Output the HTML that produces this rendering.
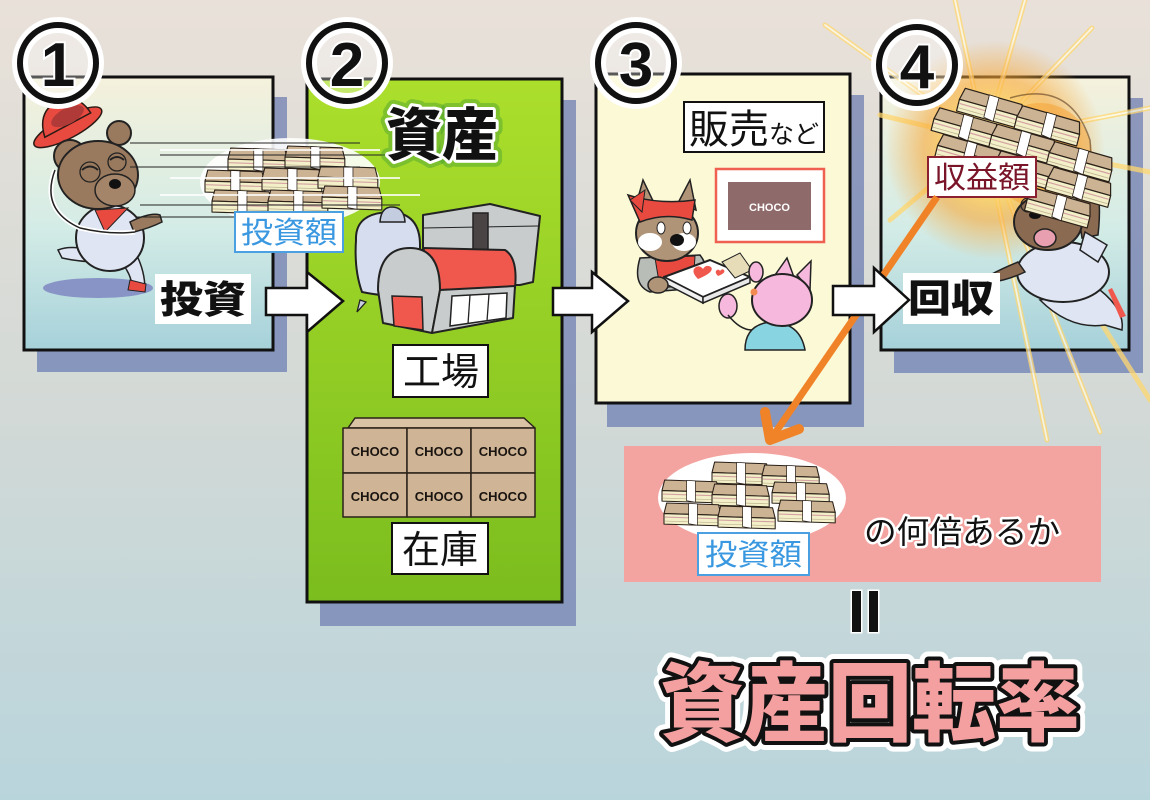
<!DOCTYPE html>
<html><head><meta charset="utf-8">
<style>
html,body{margin:0;padding:0;width:1150px;height:800px;overflow:hidden;background:#d6d9d6}
svg{display:block}
text{font-family:"Liberation Sans","Noto Sans CJK JP",sans-serif}
</style></head><body>
<svg width="1150" height="800" viewBox="0 0 1150 800" xmlns="http://www.w3.org/2000/svg">
<defs>
 <linearGradient id="bg" x1="0" y1="0" x2="0" y2="1">
  <stop offset="0" stop-color="#e9e1d9"/>
  <stop offset="0.5" stop-color="#d3d9d6"/>
  <stop offset="1" stop-color="#b9d5dc"/>
 </linearGradient>
 <linearGradient id="p1" x1="0" y1="0" x2="0" y2="1">
  <stop offset="0" stop-color="#f5f1dc"/>
  <stop offset="0.55" stop-color="#d4ece6"/>
  <stop offset="1" stop-color="#a6d1da"/>
 </linearGradient>
 <linearGradient id="p2" x1="0" y1="0" x2="0" y2="1">
  <stop offset="0" stop-color="#acdf2c"/>
  <stop offset="1" stop-color="#7bbd1e"/>
 </linearGradient>
 <linearGradient id="sh" x1="0" y1="0" x2="0" y2="1">
  <stop offset="0" stop-color="#8c97bb"/>
  <stop offset="1" stop-color="#8796bd"/>
 </linearGradient>
 <radialGradient id="glow" cx="0.5" cy="0.5" r="0.5">
  <stop offset="0" stop-color="#fffbe0" stop-opacity="1"/>
  <stop offset="0.35" stop-color="#ffe070" stop-opacity="0.95"/>
  <stop offset="0.65" stop-color="#f8a838" stop-opacity="0.6"/>
  <stop offset="1" stop-color="#f8a838" stop-opacity="0"/>
 </radialGradient>
 <g id="bun">
  <polygon points="3,0 62,2 65,14 0,12" fill="#cbb394" stroke="#2a2018" stroke-width="1.2" stroke-linejoin="round"/>
  <polygon points="0,12 65,14 65,26 0,24" fill="#f3efc8" stroke="#2a2018" stroke-width="1.2" stroke-linejoin="round"/>
  <line x1="1" y1="16" x2="64" y2="18" stroke="#d4a2a2" stroke-width="1.2"/>
  <line x1="1" y1="20.5" x2="64" y2="22.5" stroke="#bdb28e" stroke-width="0.8"/>
  <polygon points="28,0.5 38,1 38,25.3 28,23.5" fill="#fff" stroke="#2a2018" stroke-width="0.8"/>
 </g>
</defs>

<rect width="1150" height="800" fill="url(#bg)"/>

<rect x="37" y="97" width="250" height="275" fill="url(#sh)"/>
<rect x="320" y="100" width="256" height="526" fill="url(#sh)"/>
<rect x="607" y="95" width="257" height="332" fill="url(#sh)"/>
<rect x="894" y="98" width="249" height="275" fill="url(#sh)"/>

<rect x="24" y="77" width="249" height="273" fill="url(#p1)" stroke="#111" stroke-width="3"/>
<rect x="307" y="79" width="255" height="523" fill="url(#p2)" stroke="#111" stroke-width="3"/>
<rect x="596" y="74" width="254" height="329" fill="#fbf9d6" stroke="#111" stroke-width="3"/>
<rect x="881" y="77" width="248" height="273" fill="url(#p1)" stroke="#111" stroke-width="3"/>

<!-- Panel 1 -->
<ellipse cx="98" cy="288" rx="55" ry="10" fill="#8894c6"/>
<g transform="rotate(-28 65 122)">
 <ellipse cx="65" cy="128" rx="38" ry="11" fill="#e84a40" stroke="#2a1a14" stroke-width="1.5"/>
 <path d="M40,126 Q45,100 68,100 Q90,102 92,126 Z" fill="#e84a40" stroke="#2a1a14" stroke-width="1.5"/>
 <ellipse cx="70" cy="118" rx="18" ry="8" fill="#b03a38"/>
</g>
<path d="M90,250 Q70,245 58,250 L62,258 Q80,262 100,262 Z" fill="#dfe5f2" stroke="#222" stroke-width="1.5"/>
<path d="M115,255 Q130,270 132,285 L145,290 Q145,270 135,252 Z" fill="#dfe5f2" stroke="#222" stroke-width="1.5"/>
<path d="M130,280 L146,284 L145,292 L128,290 Z" fill="#e84a40" stroke="#222" stroke-width="1"/>
<ellipse cx="110" cy="238" rx="34" ry="33" fill="#dfe5f2" stroke="#222" stroke-width="2"/>
<path d="M95,210 L128,208 L105,232 Z" fill="#e84a40" stroke="#222" stroke-width="1"/>
<path d="M130,222 Q150,212 160,215 L162,222 Q150,228 134,232 Z" fill="#9a7a5e" stroke="#222" stroke-width="1.5"/>
<path d="M55,170 Q40,210 80,228 Q110,235 135,232" fill="none" stroke="#fff" stroke-width="5"/>
<path d="M55,170 Q40,210 80,228 Q110,235 135,232" fill="none" stroke="#222" stroke-width="1.5"/>
<circle cx="70" cy="156" r="16" fill="#9a7a5e" stroke="#222" stroke-width="2"/>
<circle cx="119" cy="133" r="12" fill="#9a7a5e" stroke="#222" stroke-width="2"/>
<ellipse cx="98" cy="175" rx="40" ry="34" fill="#9a7a5e" stroke="#222" stroke-width="2"/>
<ellipse cx="115" cy="190" rx="20" ry="16" fill="#a4856a" stroke="#222" stroke-width="1.5"/>
<ellipse cx="115" cy="184" rx="6" ry="5" fill="#111"/>
<path d="M82,170 q8,-7 16,0 M110,160 q7,-6 14,0" fill="none" stroke="#222" stroke-width="2"/>
<circle cx="90" cy="172" r="10" fill="none" stroke="#222" stroke-width="1.3"/>
<circle cx="117" cy="162" r="9" fill="none" stroke="#222" stroke-width="1.3"/>

<ellipse cx="290" cy="182" rx="90" ry="44" fill="#fff" opacity="0.9"/>
<use href="#bun" transform="translate(228,148) scale(0.92)"/>
<use href="#bun" transform="translate(285,146) scale(0.92)"/>
<use href="#bun" transform="translate(205,170) scale(0.92)"/>
<use href="#bun" transform="translate(262,168) scale(0.92)"/>
<use href="#bun" transform="translate(318,166) scale(0.92)"/>
<use href="#bun" transform="translate(212,190) scale(0.92)"/>
<use href="#bun" transform="translate(268,190) scale(0.92)"/>
<use href="#bun" transform="translate(322,186) scale(0.92)"/>
<g stroke="#222" stroke-width="1">
 <line x1="130" y1="143" x2="360" y2="143"/>
 <line x1="160" y1="155" x2="390" y2="155"/>
 <line x1="130" y1="167" x2="360" y2="167"/>
 <line x1="140" y1="205" x2="400" y2="205"/>
 <line x1="135" y1="217" x2="320" y2="217"/>
</g>
<g stroke="#fff" stroke-width="2" opacity="0.8">
 <line x1="160" y1="150" x2="380" y2="150"/>
 <line x1="170" y1="178" x2="400" y2="178"/>
 <line x1="160" y1="195" x2="420" y2="195"/>
</g>
<rect x="235" y="212" width="108" height="40" fill="#fff" stroke="#4aa0e0" stroke-width="2"/>
<text x="241" y="243" font-size="30" fill="#3a98e0" textLength="96" lengthAdjust="spacingAndGlyphs">投資額</text>

<rect x="155" y="274" width="96" height="50" fill="#fff"/>
<text x="160" y="313" font-size="38" font-weight="900" fill="#111" textLength="86" lengthAdjust="spacingAndGlyphs">投資</text>

<!-- Panel 2 -->
<text x="386" y="155" font-size="57" font-weight="900" fill="none" stroke="#4aa030" stroke-width="14" stroke-opacity="0.45" stroke-linejoin="round" textLength="112" lengthAdjust="spacingAndGlyphs">資産</text>
<text x="386" y="155" font-size="57" font-weight="900" fill="#111" stroke="#fff" stroke-width="6" paint-order="stroke" stroke-linejoin="round" textLength="112" lengthAdjust="spacingAndGlyphs">資産</text>

<path d="M360,300 L357,312 L366,302 Z" fill="#c8d0e2" stroke="#222" stroke-width="1.3"/>
<path d="M356,240 Q355,212 392,212 Q420,214 420,245 L420,290 Q400,300 362,292 Q354,270 356,240 Z" fill="#d6ddee" stroke="#222" stroke-width="2"/>
<path d="M380,222 Q381,207 392,207 Q404,207 405,222 Z" fill="#c4ccdf" stroke="#222" stroke-width="1.5"/>
<polygon points="423,215 490,204 540,216 533,282 520,285 423,285" fill="#c8cccc" stroke="#222" stroke-width="2" stroke-linejoin="round"/>
<line x1="423" y1="228" x2="538" y2="226" stroke="#222" stroke-width="1"/>
<rect x="473" y="213" width="15" height="45" fill="#4a4444" stroke="#222" stroke-width="1.5"/>
<path d="M423,248 L505,250 Q518,258 515,288 L440,290 Z" fill="#f0574d" stroke="#222" stroke-width="2" stroke-linejoin="round"/>
<path d="M378,290 Q378,248 410,248 Q440,248 440,290 L432,333 L383,323 Z" fill="#c8cccc" stroke="#222" stroke-width="2" stroke-linejoin="round"/>
<polygon points="440,290 515,286 513,318 432,333" fill="#c8cccc" stroke="#222" stroke-width="2" stroke-linejoin="round"/>
<polygon points="392,296 422,297 423,330 394,326" fill="#f0574d" stroke="#222" stroke-width="1.5"/>
<polygon points="452,296 507,293 506,318 450,326" fill="#fff" stroke="#222" stroke-width="1.5"/>
<line x1="470" y1="295" x2="468" y2="324" stroke="#222" stroke-width="1.3"/>
<line x1="489" y1="294" x2="487" y2="321" stroke="#222" stroke-width="1.3"/>

<rect x="393" y="345" width="95" height="52" fill="#fff" stroke="#111" stroke-width="2"/>
<text x="403" y="385" font-size="38" fill="#111" textLength="76" lengthAdjust="spacingAndGlyphs">工場</text>

<g stroke="#2a2218" stroke-width="1.5" stroke-linejoin="round">
 <polygon points="348,428 355,418 524,418 535,428" fill="#d9c3a4"/>
 <rect x="343" y="428" width="64" height="45" fill="#cfb596"/>
 <rect x="407" y="428" width="64" height="45" fill="#cfb596"/>
 <rect x="471" y="428" width="64" height="45" fill="#cfb596"/>
 <rect x="343" y="473" width="64" height="44" fill="#cfb596"/>
 <rect x="407" y="473" width="64" height="44" fill="#cfb596"/>
 <rect x="471" y="473" width="64" height="44" fill="#cfb596"/>
</g>
<g font-size="13" font-weight="bold" fill="#1a1410" text-anchor="middle">
 <text x="375" y="456">CHOCO</text><text x="439" y="456">CHOCO</text><text x="503" y="456">CHOCO</text>
 <text x="375" y="501">CHOCO</text><text x="439" y="501">CHOCO</text><text x="503" y="501">CHOCO</text>
</g>

<rect x="392" y="523" width="96" height="51" fill="#fff" stroke="#111" stroke-width="2"/>
<text x="402" y="563" font-size="38" fill="#111" textLength="76" lengthAdjust="spacingAndGlyphs">在庫</text>

<!-- Panel 3 -->
<rect x="684" y="102" width="140" height="50" fill="#fff" stroke="#111" stroke-width="2"/>
<text x="689" y="143" font-size="40" fill="#111">販売<tspan font-size="25">など</tspan></text>

<rect x="716" y="169" width="108" height="73" fill="#fff" stroke="#f06050" stroke-width="2.5"/>
<rect x="728" y="182" width="83" height="48" fill="#8f6a6a"/>
<text x="769.5" y="211" font-size="11" font-weight="bold" fill="#fff" text-anchor="middle">CHOCO</text>

<polygon points="636,205 643,180 655,205" fill="#b09478" stroke="#222" stroke-width="1.5"/>
<polygon points="678,203 690,180 696,210" fill="#b09478" stroke="#222" stroke-width="1.5"/>
<path d="M640,258 Q632,285 650,292 L700,288 Q712,270 700,255 Z" fill="#b9bdb8" stroke="#222" stroke-width="1.5"/>
<path d="M655,258 L695,256 L693,285 L660,288 Z" fill="#e84a40" stroke="#222" stroke-width="1"/>
<ellipse cx="667" cy="233" rx="31" ry="28" fill="#b09478" stroke="#222" stroke-width="2"/>
<ellipse cx="650" cy="242" rx="12" ry="9" fill="#fff"/>
<ellipse cx="684" cy="242" rx="12" ry="9" fill="#fff"/>
<ellipse cx="677" cy="240" rx="7" ry="6" fill="#111"/>
<ellipse cx="661" cy="228" rx="4" ry="6" fill="#fff" stroke="#222"/>
<ellipse cx="687" cy="228" rx="4" ry="6" fill="#fff" stroke="#222"/>
<path d="M628,195 Q660,205 695,200 L692,220 Q665,212 640,222 Z" fill="#e84a40" stroke="#222" stroke-width="1.5"/>
<polygon points="630,200 645,190 642,212" fill="#e84a40" stroke="#222" stroke-width="1"/>
<polygon points="664,277 710,260 750,277 703,297" fill="#fff" stroke="#222" stroke-width="2" stroke-linejoin="round"/>
<polygon points="664,277 703,297 703,303 664,283" fill="#f0f0f0" stroke="#222" stroke-width="1.5"/>
<polygon points="703,297 750,277 750,283 703,303" fill="#e8e8e8" stroke="#222" stroke-width="1.5"/>
<path d="M700,275 q-8,-8 -2,-12 q4,-2 7,2 q3,-5 8,-2 q4,5 -13,12 Z" fill="#f0574d" transform="translate(-2,4)"/>
<path d="M718,276 q-4,-4 -1,-6 q2,-1 3,1 q2,-3 4,-1 q2,3 -6,6 Z" fill="#f0574d"/>
<ellipse cx="658" cy="285" rx="10" ry="8" fill="#b09478" stroke="#222" stroke-width="1.5"/>
<polygon points="722,262 740,253 752,270 735,278" fill="#e6dcb8" stroke="#222" stroke-width="1"/>
<path d="M745,350 Q745,325 770,322 Q800,322 805,350 Z" fill="#88d4e0" stroke="#222" stroke-width="1.5"/>
<polygon points="775,275 787,258 795,280" fill="#f6b8dc" stroke="#222" stroke-width="1.5"/>
<polygon points="797,275 811,261 810,290" fill="#f6b8dc" stroke="#222" stroke-width="1.5"/>
<ellipse cx="782" cy="300" rx="30" ry="26" fill="#f6b8dc" stroke="#222" stroke-width="2"/>
<circle cx="754" cy="292" r="3.5" fill="#f08a50"/>
<ellipse cx="728" cy="306" rx="9" ry="12" fill="#f6b8dc" stroke="#222" stroke-width="1.5"/>
<ellipse cx="756" cy="272" rx="7" ry="10" fill="#f6b8dc" stroke="#222" stroke-width="1.5"/>
<path d="M728,315 Q740,330 752,330" fill="none" stroke="#222" stroke-width="1.5"/>

<!-- Panel 4 -->
<g stroke-linecap="round" opacity="0.75">
 <g stroke="#ffd870" stroke-width="5">
  <line x1="985" y1="140" x2="825" y2="25"/>
  <line x1="985" y1="140" x2="955" y2="0"/>
  <line x1="985" y1="140" x2="1025" y2="0"/>
  <line x1="985" y1="140" x2="1092" y2="28"/>
  <line x1="985" y1="140" x2="1150" y2="108"/>
  <line x1="985" y1="140" x2="1150" y2="172"/>
  <line x1="985" y1="140" x2="1047" y2="440"/>
  <line x1="985" y1="140" x2="1100" y2="432"/>
  <line x1="985" y1="140" x2="1150" y2="400"/>
  <line x1="985" y1="140" x2="880" y2="115"/>
  <line x1="985" y1="140" x2="890" y2="220"/>
 </g>
 <g stroke="#fffbe8" stroke-width="1.8">
  <line x1="985" y1="140" x2="825" y2="25"/>
  <line x1="985" y1="140" x2="955" y2="0"/>
  <line x1="985" y1="140" x2="1025" y2="0"/>
  <line x1="985" y1="140" x2="1092" y2="28"/>
  <line x1="985" y1="140" x2="1150" y2="108"/>
  <line x1="985" y1="140" x2="1047" y2="440"/>
  <line x1="985" y1="140" x2="1100" y2="432"/>
 </g>
</g>
<circle cx="995" cy="150" r="110" fill="url(#glow)"/>
<circle cx="1040" cy="155" r="52" fill="#f6a030" opacity="0.5"/>
<path d="M1010,98 Q1070,80 1090,140 Q1095,185 1060,205" fill="none" stroke="#5a3a20" stroke-width="1.5" opacity="0.6"/>

<path d="M1075,190 Q1085,175 1095,182 Q1102,200 1098,235 L1082,238 Z" fill="#8a6a50" stroke="#222" stroke-width="1.5"/>
<path d="M1040,300 Q1070,330 1105,325 L1122,330 Q1125,310 1100,290 Z" fill="#dfe5f2" stroke="#222" stroke-width="1.5"/>
<path d="M1108,290 L1120,318 L1126,316 L1112,288 Z" fill="#f0574d"/>
<ellipse cx="1063" cy="272" rx="46" ry="30" fill="#dfe5f2" stroke="#222" stroke-width="2"/>
<path d="M1085,232 L1107,245 L1098,262 L1080,250 Z" fill="#dfe5f2" stroke="#222" stroke-width="1.5"/>
<path d="M1018,262 Q1003,268 990,275 L993,282 Q1008,280 1025,272 Z" fill="#8a6a50" stroke="#222" stroke-width="1.5"/>
<ellipse cx="1048" cy="222" rx="34" ry="28" fill="#8a6a50" stroke="#222" stroke-width="2"/>
<ellipse cx="1045" cy="238" rx="11" ry="9" fill="#e8a0b0" stroke="#222" stroke-width="1.5"/>
<ellipse cx="1035" cy="215" rx="6" ry="4" fill="#111"/>
<circle cx="1028" cy="205" r="7" fill="none" stroke="#222" stroke-width="1.2"/>
<circle cx="1058" cy="205" r="8" fill="none" stroke="#222" stroke-width="1.2"/>

<g transform="translate(0,14) rotate(14 1000 150)">
 <use href="#bun" transform="translate(945,85)"/>
 <use href="#bun" transform="translate(1005,88)"/>
 <use href="#bun" transform="translate(925,110)"/>
 <use href="#bun" transform="translate(985,112)"/>
 <use href="#bun" transform="translate(1045,115)"/>
 <use href="#bun" transform="translate(935,135)"/>
 <use href="#bun" transform="translate(995,137)"/>
 <use href="#bun" transform="translate(1050,140)"/>
 <use href="#bun" transform="translate(1035,165)"/>
</g>
<rect x="928" y="157" width="108" height="40" fill="#fff" stroke="#8a2030" stroke-width="2"/>
<text x="934" y="188" font-size="30" fill="#7a1428" textLength="96" lengthAdjust="spacingAndGlyphs">収益額</text>

<line x1="937" y1="197" x2="773" y2="436" stroke="#f08228" stroke-width="7"/>
<polyline points="765,412 770,440 799,429" fill="none" stroke="#f08228" stroke-width="10" stroke-linecap="round" stroke-linejoin="round"/>

<rect x="903" y="273" width="97" height="51" fill="#fff"/>
<text x="908" y="312" font-size="38" font-weight="900" fill="#111" textLength="86" lengthAdjust="spacingAndGlyphs">回収</text>

<g fill="#fff" stroke="#111" stroke-width="2.5" stroke-linejoin="miter">
 <polygon points="266,288 307,288 307,272 343,301 307,332 307,315 266,315"/>
 <polygon points="553,288 592,288 592,272 628,301 592,332 592,315 553,315"/>
 <polygon points="833,286 874,286 874,268 909,300 874,332 874,315 833,315"/>
</g>

<g>
 <g fill="#fff" fill-opacity="0.3" stroke="#fff" stroke-width="16">
  <circle cx="58" cy="63" r="38"/>
  <circle cx="347" cy="63" r="38"/>
  <circle cx="636" cy="63" r="38"/>
  <circle cx="917" cy="65" r="38"/>
 </g>
 <g fill="none" stroke="#111" stroke-width="6">
  <circle cx="58" cy="63" r="38"/>
  <circle cx="347" cy="63" r="38"/>
  <circle cx="636" cy="63" r="38"/>
  <circle cx="917" cy="65" r="38"/>
 </g>
 <g font-size="62" font-weight="bold" fill="#111" stroke="#fff" stroke-width="4" paint-order="stroke" text-anchor="middle">
  <text x="58" y="86">1</text>
  <text x="347" y="86">2</text>
  <text x="636" y="86">3</text>
  <text x="917" y="88">4</text>
 </g>
</g>

<rect x="624" y="446" width="477" height="136" fill="#f4a4a0"/>
<ellipse cx="752" cy="498" rx="94" ry="45" fill="#fff"/>
<use href="#bun" transform="translate(712,462) scale(0.88)"/>
<use href="#bun" transform="translate(762,465) scale(0.88)"/>
<use href="#bun" transform="translate(662,480) scale(0.88)"/>
<use href="#bun" transform="translate(712,484) scale(0.88)"/>
<use href="#bun" transform="translate(772,482) scale(0.88)"/>
<use href="#bun" transform="translate(664,503) scale(0.88)"/>
<use href="#bun" transform="translate(718,506) scale(0.88)"/>
<use href="#bun" transform="translate(778,500) scale(0.88)"/>
<rect x="698" y="533" width="111" height="42" fill="#fff" stroke="#4aa0e0" stroke-width="2"/>
<text x="705" y="565" font-size="30" fill="#3a98e0" textLength="97" lengthAdjust="spacingAndGlyphs">投資額</text>
<text x="864" y="543" font-size="32" fill="#111" stroke="#fff" stroke-width="5" paint-order="stroke" stroke-linejoin="round" textLength="196" lengthAdjust="spacingAndGlyphs">の何倍あるか</text>

<g fill="#111" stroke="#fff" stroke-width="3" paint-order="stroke">
 <rect x="852" y="591" width="9" height="41"/>
 <rect x="869" y="591" width="9" height="41"/>
</g>

<text x="660" y="734" font-size="86" font-weight="900" fill="none" stroke="#fff" stroke-width="18" stroke-linejoin="round" textLength="420" lengthAdjust="spacingAndGlyphs">資産回転率</text>
<text x="660" y="734" font-size="86" font-weight="900" fill="#f4a0a0" stroke="#111" stroke-width="8" paint-order="stroke" stroke-linejoin="round" textLength="420" lengthAdjust="spacingAndGlyphs">資産回転率</text>
</svg>
</body></html>
